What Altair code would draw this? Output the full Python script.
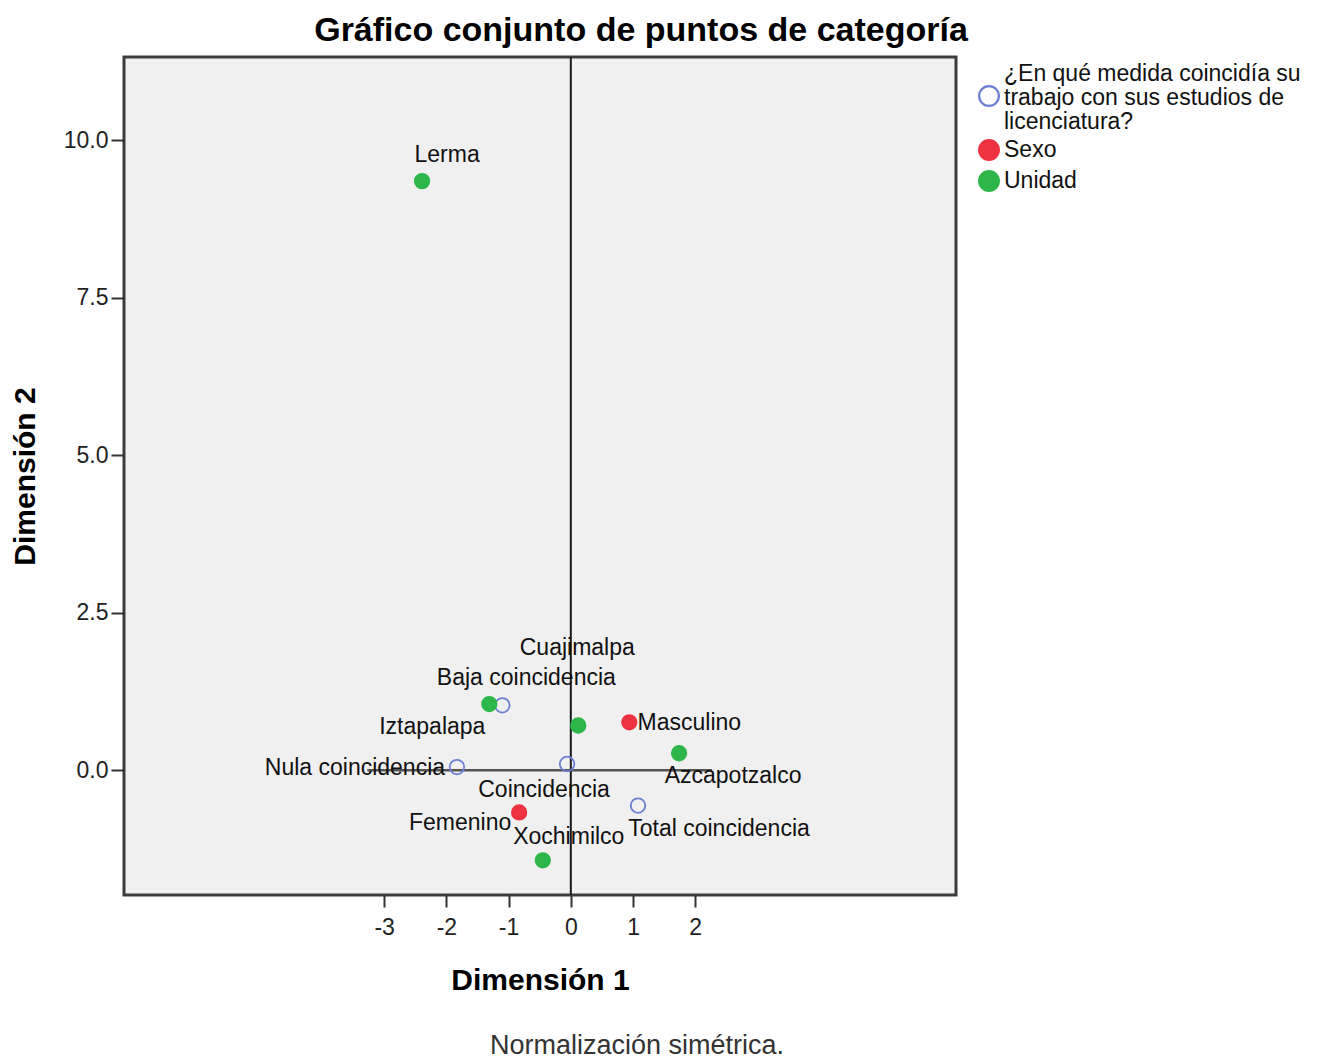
import altair as alt
import pandas as pd

Q = "¿En qué medida coincidía su trabajo con sus estudios de licenciatura?"
S = "Sexo"
U = "Unidad"

categories = ["Lerma", "Baja coincidencia", "Iztapalapa", "Cuajimalpa", "Masculino",
              "Azcapotzalco", "Nula coincidencia", "Coincidencia", "Total coincidencia",
              "Femenino", "Xochimilco"]
groups = [U, Q, U, U, S, U, Q, Q, Q, S, U]
dim1 = [-2.39, -1.10, -1.31, 0.12, 0.94, 1.74, -1.83, -0.06, 1.08, -0.83, -0.45]
dim2 = [9.35, 1.03, 1.05, 0.71, 0.76, 0.27, 0.05, 0.10, -0.56, -0.67, -1.43]

x_ticks = [-3, -2, -1, 0, 1, 2]
y_ticks = [0, 2.5, 5, 7.5, 10]

group_order = [Q, S, U]
legend_lines = [["¿En qué medida coincidía su", "trabajo con sus estudios de", "licenciatura?"],
                ["Sexo"], ["Unidad"]]
fill_colors = ["transparent", "#ee3240", "#2db64a"]
stroke_colors = ["#6b7fd4", "#ee3240", "#2db64a"]

# label offsets in pixels (dx, dy) relative to each point
label_offsets = {
    "Lerma": (25, -26), "Baja coincidencia": (24, -27), "Iztapalapa": (-57, 23),
    "Cuajimalpa": (-1, -78), "Masculino": (60, 1), "Azcapotzalco": (54, 23),
    "Nula coincidencia": (-102, 1), "Coincidencia": (-23, 26),
    "Total coincidencia": (81, 23), "Femenino": (-59, 11), "Xochimilco": (26, -23),
}

df = pd.DataFrame({"label": categories, "group": groups, "d1": dim1, "d2": dim2})

FONT = "Liberation Sans"
xs = alt.Scale(domain=[-7.18, 6.19], nice=False, zero=False)
ys = alt.Scale(domain=[-1.98, 11.32], nice=False, zero=False)

x_enc = alt.X("d1:Q", scale=xs, axis=alt.Axis(
    title="Dimensión 1", values=x_ticks, labelExpr="'' + datum.value", tickSize=12, labelPadding=9,
    titleX=416, titleY=85, titleBaseline="middle", titleAlign="center"))
y_enc = alt.Y("d2:Q", scale=ys, axis=alt.Axis(
    title="Dimensión 2", values=y_ticks, format=".1f", tickSize=13, labelPadding=3,
    titleX=-99, titleY=419, titleBaseline="middle", titleAlign="center", titleAngle=270))

vline_df = pd.DataFrame({"x": [0]})
hline_df = pd.DataFrame({"x": [-3.27], "x2": [2.27], "y": [0]})

vline = alt.Chart(vline_df).mark_rule(color="#1a1a1a", strokeWidth=2).encode(
    x=alt.X("x:Q", scale=xs))
hline = alt.Chart(hline_df).mark_rule(color="#555555", strokeWidth=2.5).encode(
    x=alt.X("x:Q", scale=xs), x2="x2:Q", y=alt.Y("y:Q", scale=ys))

points = alt.Chart(df).mark_point(size=210, strokeWidth=1.8, opacity=1, filled=False).encode(
    x=x_enc, y=y_enc,
    fill=alt.Fill("group:N", scale=alt.Scale(domain=group_order, range=fill_colors), legend=None),
    stroke=alt.Stroke("group:N", scale=alt.Scale(domain=group_order, range=stroke_colors), legend=None),
)

text_layers = []
for name in categories:
    dx, dy = label_offsets[name]
    text_layers.append(
        alt.Chart(df).transform_filter(alt.datum.label == name).mark_text(
            font=FONT, fontSize=23, color="#111111", dx=dx, dy=dy,
            align="center", baseline="middle").encode(
            x=alt.X("d1:Q", scale=xs), y=alt.Y("d2:Q", scale=ys), text="label:N"))

# manual legend (layout positions in pixels relative to plot area)
legend_sym_y = [39, 93, 124]
legend_txt_y = [17, 93, 124]
legend_layers = []
for i, g in enumerate(group_order):
    gdf = pd.DataFrame({"group": [g]})
    legend_layers.append(
        alt.Chart(gdf).mark_point(shape="circle", size=390, strokeWidth=2.2, opacity=1,
                                  filled=False, fill=fill_colors[i], stroke=stroke_colors[i]).encode(
            x=alt.value(865), y=alt.value(legend_sym_y[i])))
    tdf = pd.DataFrame({"t": [legend_lines[i]]})
    legend_layers.append(
        alt.Chart(tdf).mark_text(font=FONT, fontSize=23, lineHeight=24, color="#111111",
                                 align="left", baseline="middle").encode(
            x=alt.value(880), y=alt.value(legend_txt_y[i]), text="t"))

foot = alt.Chart(pd.DataFrame({"t": ["Normalización simétrica."]})).mark_text(
    font=FONT, fontSize=27, color="#333333", align="center", baseline="middle").encode(
    x=alt.value(513), y=alt.value(989), text="t:N")

chart = alt.layer(hline, vline, points, *text_layers, *legend_layers, foot).properties(
    width=832, height=838,
    title=alt.Title("Gráfico conjunto de puntos de categoría", font=FONT, fontSize=34,
                    fontWeight="bold", color="#000000", anchor="middle", dx=101, offset=8),
    autosize=alt.AutoSizeParams(type="none"),
    padding={"left": 116, "top": 49, "right": 355, "bottom": 164},
    background="white",
).configure_view(
    fill="#f0f0f0", stroke="#3c3c3c", strokeWidth=3
).configure_axis(
    domain=False, grid=False, tickColor="#333333", tickWidth=2,
    labelFont=FONT, labelFontSize=23, labelColor="#222222",
    titleFont=FONT, titleFontSize=30, titleFontWeight="bold", titleColor="#000000",
)

chart.save("out.html", embed_options={"renderer": "svg", "actions": False})
